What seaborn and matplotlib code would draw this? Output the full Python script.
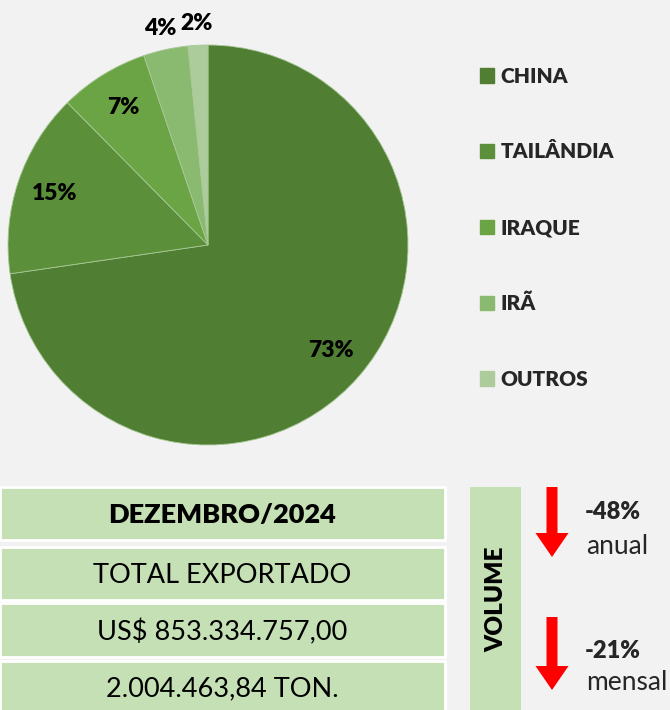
import numpy as np
import seaborn as sns
import matplotlib.pyplot as plt
from matplotlib.patches import Rectangle, FancyArrow

# pie data (share of exports, %)
paises = ['CHINA', 'TAILÂNDIA', 'IRAQUE', 'IRÃ', 'OUTROS']
shares = [72.7, 14.9, 7.2, 3.6, 1.6]
cores = ['#507e32', '#5b8f3a', '#6aa444', '#8aba6f', '#adcc9c']

# summary table
linhas = ['DEZEMBRO/2024', 'TOTAL EXPORTADO', 'US$ 853.334.757,00', '2.004.463,84 TON.']
variacoes = ['-48%', '-21%']
periodos = ['anual', 'mensal']

sns.set_style('white')
plt.rcParams['font.family'] = ['Lato', 'DejaVu Sans']

W, H = 670, 710
fig = plt.figure(figsize=(W / 100, H / 100), dpi=100, facecolor='#f2f2f2')

# pie
ax = fig.add_axes([8 / W, (H - 445) / H, 400 / W, 400 / H])
ax.set_facecolor('none')
wedges, texts, autotexts = ax.pie(
    shares, colors=cores, startangle=90, counterclock=False,
    autopct=lambda p: f'{p:.0f}%', pctdistance=0.81,
    wedgeprops=dict(linewidth=0.6, edgecolor='#a8c896'),
    textprops=dict(fontsize=16.5, fontweight='heavy', color='black'))
# small slices: labels outside
for w, t in zip(wedges[3:], autotexts[3:]):
    ang = np.deg2rad((w.theta1 + w.theta2) / 2)
    t.set_position((1.12 * np.cos(ang), 1.11 * np.sin(ang)))
ax.set_xlim(-1, 1)
ax.set_ylim(-1, 1)
ax.axis('off')

# legend
handles = [Rectangle((0, 0), 1, 1, color=c) for c in cores]
leg = fig.legend(handles, paises, loc='upper left', bbox_to_anchor=(461 / W, 1 - 48 / H),
                 frameon=False, handlelength=0.7, handleheight=0.7, handletextpad=0.3,
                 labelspacing=2.72, prop=dict(size=15, weight='heavy'))

# bottom table
tx = fig.add_axes([0, 0, 1, 1])
tx.set_xlim(0, W)
tx.set_ylim(H, 0)
tx.axis('off')
tx.patch.set_alpha(0)

verde = '#c5e0b4'
caixas = [(487, 540), (547, 600), (603, 657), (661, 712)]
for i, (txt, (y0, y1)) in enumerate(zip(linhas, caixas)):
    tx.add_patch(Rectangle((0, y0), 445, y1 - y0, facecolor=verde, edgecolor='white', lw=2))
    tx.text(222, (y0 + y1) / 2 + 2, txt, ha='center', va='center', fontsize=19.5,
            fontweight='heavy' if i == 0 else 'normal', color='black')

tx.add_patch(Rectangle((470, 487), 51, 225, facecolor=verde, edgecolor='none'))
tx.text(496, 599, 'VOLUME', rotation=90, ha='center', va='center', fontsize=17.5,
        fontweight='heavy', color='black')

setas = [(487, 557), (617, 690)]
for (y0, y1), v, p in zip(setas, variacoes, periodos):
    tx.add_patch(FancyArrow(552, y0, 0, y1 - y0, width=11, head_width=33, head_length=24,
                            length_includes_head=True, color='#ff0000', lw=0))
    tx.text(585, y0 + 25 if y0 < 600 else y0 + 34, v, ha='left', va='center',
            fontsize=17, fontweight='heavy')
    tx.text(586, y0 + 59 if y0 < 600 else y0 + 66, p, ha='left', va='center', fontsize=19)

fig.savefig('out.png', dpi=100, facecolor=fig.get_facecolor())
